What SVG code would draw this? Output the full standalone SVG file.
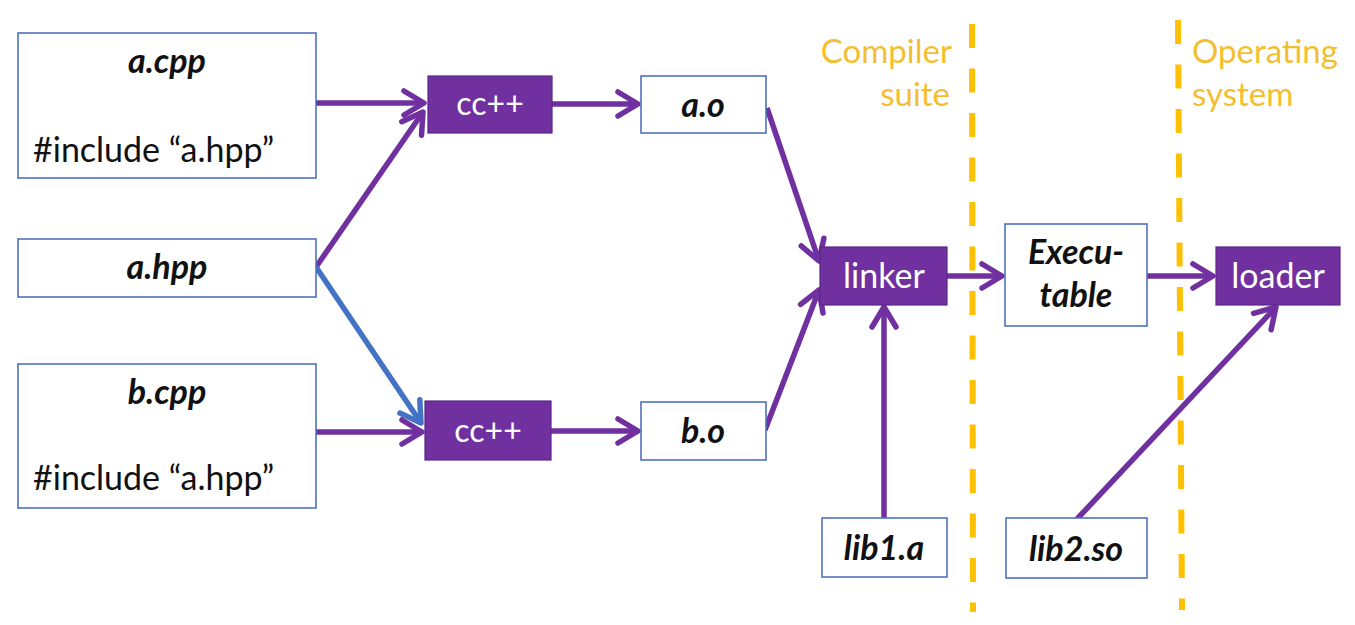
<svg xmlns="http://www.w3.org/2000/svg" width="1355" height="625" viewBox="0 0 1355 625">
  <style>
    .box { fill: #ffffff; stroke: #4f72bd; stroke-width: 1.6; }
    .proc { fill: #7030a0; stroke: #5a2585; stroke-width: 1.2; }
    .t { font-family: Lato, "Liberation Sans", sans-serif; font-size: 34px; fill: #111111; }
    .bi { font-weight: bold; font-style: italic; text-anchor: middle; }
    .w { fill: #ffffff; text-anchor: middle; }
    .y { font-family: Lato, "Liberation Sans", sans-serif; font-size: 33px; fill: #f5be30; }
    .conn { fill: none; stroke: #7030a0; stroke-width: 5.5; marker-end: url(#arr); }
    .blue { stroke: #4472c4; marker-end: url(#arrb); }
    .sep { fill: none; stroke: #ffc000; stroke-width: 6; stroke-dasharray: 24 20.5; }
  </style>
  <defs>
    <marker id="arr" markerUnits="userSpaceOnUse" viewBox="-26 -16 30 32" refX="0" refY="0" markerWidth="30" markerHeight="32" orient="auto">
      <path d="M-20,-12 L0,0 L-20,12" fill="none" stroke="#7030a0" stroke-width="5.5" stroke-linecap="round" stroke-linejoin="round"/>
    </marker>
    <marker id="arrb" markerUnits="userSpaceOnUse" viewBox="-26 -16 30 32" refX="0" refY="0" markerWidth="30" markerHeight="32" orient="auto">
      <path d="M-20,-12 L0,0 L-20,12" fill="none" stroke="#4472c4" stroke-width="5.5" stroke-linecap="round" stroke-linejoin="round"/>
    </marker>
  </defs>
  <rect width="1355" height="625" fill="#ffffff"/>

  <g id="separators">
    <line class="sep" x1="972" y1="24" x2="973" y2="612"/>
    <line class="sep" x1="1178" y1="20" x2="1182" y2="610"/>
    <text class="y" x="952" y="63" text-anchor="end">Compiler</text>
    <text class="y" x="950" y="106" text-anchor="end">suite</text>
    <text class="y" x="1192" y="63">Operating</text>
    <text class="y" x="1192" y="106">system</text>
  </g>

  <g id="connectors">
    <path class="conn" d="M316,103 L424,103"/>
    <path class="conn" d="M316,267 L423,112"/>
    <path class="conn blue" d="M316,267 L421,423"/>
    <path class="conn" d="M316,432 L422,432"/>
    <path class="conn" d="M552,104 L638,104"/>
    <path class="conn" d="M551,431 L638,431"/>
    <path class="conn" d="M767,108 L819,261"/>
    <path class="conn" d="M765,430 L819,290"/>
    <path class="conn" d="M884,518 L884,307"/>
    <path class="conn" d="M947,276 L1002,276"/>
    <path class="conn" d="M1147,276 L1213,276"/>
    <path class="conn" d="M1077,519 L1276,307"/>
  </g>

  <g id="a_cpp">
    <rect class="box" x="18" y="33" width="298" height="145"/>
    <text class="t bi" x="167" y="73">a.cpp</text>
    <text class="t" x="33" y="162">#include “a.hpp”</text>
  </g>
  <g id="a_hpp">
    <rect class="box" x="18" y="239" width="298" height="58"/>
    <text class="t bi" x="167" y="279">a.hpp</text>
  </g>
  <g id="b_cpp">
    <rect class="box" x="18" y="364" width="298" height="144"/>
    <text class="t bi" x="167" y="404">b.cpp</text>
    <text class="t" x="33" y="490">#include “a.hpp”</text>
  </g>
  <g id="cc_top">
    <rect class="proc" x="428" y="76" width="124" height="57"/>
    <text class="t w" x="490" y="115" style="font-size:32px">cc++</text>
  </g>
  <g id="cc_bottom">
    <rect class="proc" x="425" y="401" width="126" height="59"/>
    <text class="t w" x="488" y="442" style="font-size:32px">cc++</text>
  </g>
  <g id="a_o">
    <rect class="box" x="641" y="76" width="125" height="57"/>
    <text class="t bi" x="703" y="117">a.o</text>
  </g>
  <g id="b_o">
    <rect class="box" x="641" y="402" width="125" height="58"/>
    <text class="t bi" x="703" y="443">b.o</text>
  </g>
  <g id="linker">
    <rect class="proc" x="820" y="247" width="127" height="58"/>
    <text class="t w" x="884" y="288">linker</text>
  </g>
  <g id="executable">
    <rect class="box" x="1005" y="224" width="142" height="102"/>
    <text class="t bi" x="1076" y="264">Execu-</text>
    <text class="t bi" x="1076" y="307">table</text>
  </g>
  <g id="loader">
    <rect class="proc" x="1216" y="247" width="124" height="58"/>
    <text class="t w" x="1278" y="288">loader</text>
  </g>
  <g id="lib1_a">
    <rect class="box" x="822" y="518" width="125" height="59"/>
    <text class="t bi" x="884" y="560">lib1.a</text>
  </g>
  <g id="lib2_so">
    <rect class="box" x="1006" y="518" width="141" height="60"/>
    <text class="t bi" x="1076" y="561">lib2.so</text>
  </g>
</svg>
